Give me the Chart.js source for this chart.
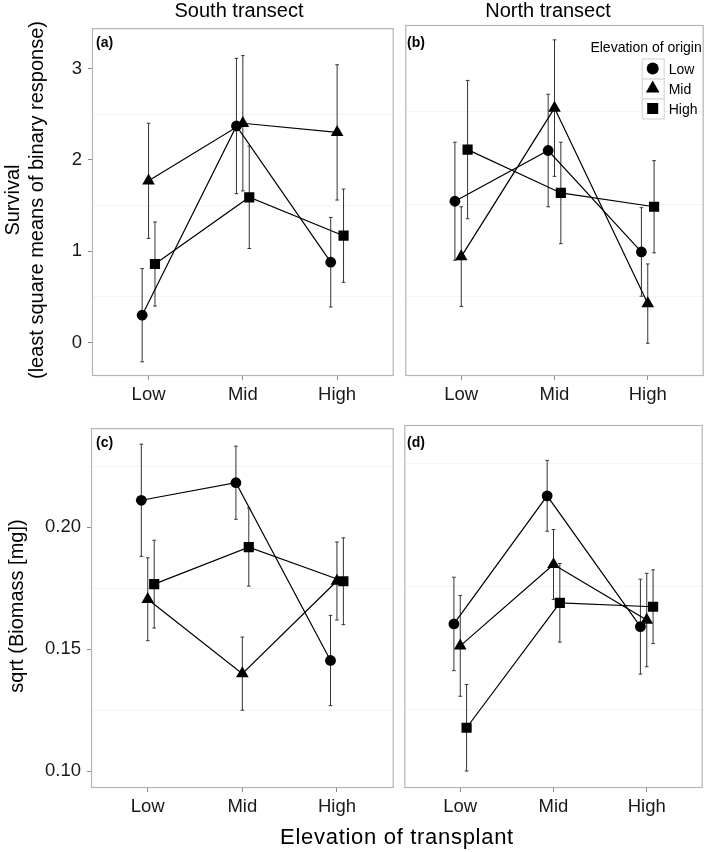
<!DOCTYPE html>
<html>
<head>
<meta charset="utf-8">
<script src="https://cdn.jsdelivr.net/npm/chart.js@4.4.0/dist/chart.umd.min.js"></script>
<style>
body { margin: 0; background: #fff; font-family: "Liberation Sans", Arial, sans-serif; }
#wrap { position: relative; width: 709px; height: 852px; overflow: hidden; }
canvas { position: absolute; }
.txt { position: absolute; white-space: nowrap; color: #000; line-height: 1; }
.rot { transform: translate(-50%, -50%) rotate(-90deg); text-align: center; }
</style>
</head>
<body>
<div id="wrap">
  <canvas id="chartA" width="369" height="405" style="left:32px;top:11px"></canvas>
  <canvas id="chartB" width="313" height="405" style="left:398px;top:11px"></canvas>
  <canvas id="chartC" width="370" height="417" style="left:31px;top:411px"></canvas>
  <canvas id="chartD" width="313" height="417" style="left:397px;top:411px"></canvas>

  <div class="txt" style="left:239px;top:0px;font-size:20px;transform:translateX(-50%)">South transect</div>
  <div class="txt" style="left:548px;top:0px;font-size:20px;transform:translateX(-50%)">North transect</div>

  <div class="txt" style="left:96px;top:35px;font-size:14px;font-weight:bold">(a)</div>
  <div class="txt" style="left:407px;top:35px;font-size:14px;font-weight:bold">(b)</div>
  <div class="txt" style="left:96px;top:435px;font-size:14px;font-weight:bold">(c)</div>
  <div class="txt" style="left:407px;top:435px;font-size:14px;font-weight:bold">(d)</div>

  <div class="txt rot" style="left:24px;top:200px;font-size:20px;line-height:24px">Survival<br>(least square means of binary response)</div>
  <div class="txt rot" style="left:16px;top:606px;font-size:20px">sqrt (Biomass [mg])</div>
  <div class="txt" style="left:397px;top:826px;font-size:22px;letter-spacing:0.7px;transform:translateX(-50%)">Elevation of transplant</div>
</div>

<script>
// categories
const transplantLevels = ['Low', 'Mid', 'High'];
const originLevels = ['Low', 'Mid', 'High'];

// (a) survival, south transect
const survSouthLow = [0.30, 2.37, 0.88];
const survSouthMid = [1.77, 2.40, 2.30];
const survSouthHigh = [0.86, 1.59, 1.17];
const survSouthLowSe = [0.51, 0.74, 0.49];
const survSouthMidSe = [0.63, 0.74, 0.74];
const survSouthHighSe = [0.46, 0.56, 0.51];

// (b) survival, north transect
const survNorthLow = [1.53, 2.08, 0.98];
const survNorthMid = [0.93, 2.54, 0.42];
const survNorthHigh = [2.09, 1.62, 1.47];
const survNorthLowSe = [0.64, 0.61, 0.48];
const survNorthMidSe = [0.54, 0.74, 0.43];
const survNorthHighSe = [0.75, 0.55, 0.50];

// (c) biomass, south transect
const bioSouthLow = [0.2111, 0.2183, 0.1454];
const bioSouthMid = [0.1705, 0.1400, 0.1780];
const bioSouthHigh = [0.1767, 0.1919, 0.1779];
const bioSouthLowSe = [0.0230, 0.0150, 0.0185];
const bioSouthMidSe = [0.0170, 0.0150, 0.0160];
const bioSouthHighSe = [0.0180, 0.0160, 0.0178];

// (d) biomass, north transect
const bioNorthLow = [0.1598, 0.2119, 0.1587];
const bioNorthMid = [0.1509, 0.1840, 0.1614];
const bioNorthHigh = [0.1176, 0.1684, 0.1668];
const bioNorthLowSe = [0.0190, 0.0144, 0.0193];
const bioNorthMidSe = [0.0205, 0.0142, 0.0190];
const bioNorthHighSe = [0.0176, 0.0160, 0.0150];

// tick values (majors labelled, halves are the faint minor lines)
const survTicks = [0, 0.5, 1, 1.5, 2, 2.5, 3];
const bioTicks = [0.10, 0.125, 0.15, 0.175, 0.20, 0.225];

const dodge = [-0.068, 0, 0.068];
const shapes = ['circle', 'triangle', 'rect'];
const radii = [5.4, 7.3, 7.2];
const FONT = '"Liberation Sans", Arial, sans-serif';

Chart.defaults.font.family = FONT;

const errorBars = {
    id: 'errorBars',
    beforeDatasetsDraw(chart) {
        const ctx = chart.ctx;
        const x = chart.scales.x, y = chart.scales.y;
        ctx.save();
        ctx.strokeStyle = '#333';
        ctx.lineWidth = 1;
        chart.data.datasets.forEach(ds => {
            ds.data.forEach((p, i) => {
                const px = x.getPixelForValue(p.x);
                const top = y.getPixelForValue(p.y + ds.errors[i]);
                const bot = y.getPixelForValue(p.y - ds.errors[i]);
                ctx.beginPath();
                ctx.moveTo(px, top); ctx.lineTo(px, bot);
                ctx.moveTo(px - 1.8, top); ctx.lineTo(px + 1.8, top);
                ctx.moveTo(px - 1.8, bot); ctx.lineTo(px + 1.8, bot);
                ctx.stroke();
            });
        });
        ctx.restore();
    }
};

const panelFrame = {
    id: 'panelFrame',
    afterDraw(chart) {
        const a = chart.chartArea, ctx = chart.ctx;
        ctx.save();
        ctx.strokeStyle = '#b5b5b5';
        ctx.lineWidth = 1.2;
        ctx.strokeRect(a.left + 0.5, a.top + 0.5, a.right - a.left - 1, a.bottom - a.top - 1);
        ctx.restore();
    }
};

function drawShape(ctx, shape, r, cx, cy) {
    ctx.beginPath();
    if (shape === 'circle') {
        ctx.arc(cx, cy, r, 0, Math.PI * 2);
    } else if (shape === 'triangle') {
        for (let k = 0; k < 3; k++) {
            const ang = k * 2 * Math.PI / 3;
            const px = cx + Math.sin(ang) * r, py = cy - Math.cos(ang) * r;
            if (k === 0) ctx.moveTo(px, py); else ctx.lineTo(px, py);
        }
        ctx.closePath();
    } else {
        const s = r * Math.SQRT1_2;
        ctx.rect(cx - s, cy - s, 2 * s, 2 * s);
    }
    ctx.fill();
}

const originLegend = {
    id: 'originLegend',
    afterDraw(chart, args, opts) {
        if (!opts.show) return;
        const a = chart.chartArea, ctx = chart.ctx;
        ctx.save();
        ctx.fillStyle = '#000';
        ctx.font = '14px ' + FONT;
        ctx.textAlign = 'right';
        ctx.textBaseline = 'alphabetic';
        ctx.fillText('Elevation of origin', a.right - 2, a.top + 26.5);
        ctx.textAlign = 'left';
        originLevels.forEach((lab, i) => {
            const bx = a.right - 62, by = a.top + 33.5 + 20 * i;
            ctx.fillStyle = '#fff';
            ctx.fillRect(bx, by, 22, 20);
            ctx.strokeStyle = '#d0d0d0';
            ctx.lineWidth = 1;
            ctx.strokeRect(bx + 0.5, by + 0.5, 22, 20);
            ctx.fillStyle = '#000';
            drawShape(ctx, shapes[i], radii[i] + 0.6, bx + 11, by + 10);
            ctx.font = '14px ' + FONT;
            ctx.fillText(lab, a.right - 35, by + 15.5);
        });
        ctx.restore();
    }
};

function makePanel(id, series, errs, yMin, yMax, yTicks, majorStep, fmt, showY, legend) {
    const isMajor = v => Math.abs(v / majorStep - Math.round(v / majorStep)) < 1e-6;
    const datasets = series.map((vals, s) => ({
        label: originLevels[s],
        data: vals.map((v, i) => ({ x: i + 1 + dodge[s], y: v })),
        errors: errs[s],
        borderColor: '#000',
        borderWidth: 1.2,
        backgroundColor: '#000',
        pointStyle: shapes[s],
        pointRadius: radii[s],
        pointBorderWidth: 0,
        pointBackgroundColor: '#000',
        tension: 0,
        fill: false
    }));
    new Chart(document.getElementById(id), {
        type: 'line',
        data: { datasets: datasets },
        options: {
            responsive: false,
            animation: false,
            events: [],
            layout: { padding: { top: 14, right: 4, left: showY ? 0 : 4, bottom: 0 } },
            plugins: { legend: { display: false }, tooltip: { enabled: false }, originLegend: { show: legend } },
            scales: {
                x: {
                    type: 'linear',
                    min: 0.4,
                    max: 3.6,
                    afterBuildTicks: s => { s.ticks = transplantLevels.map((t, i) => ({ value: i + 1 })); },
                    afterFit: s => { s.height = 40; },
                    ticks: {
                        callback: v => transplantLevels[Math.round(v) - 1],
                        font: { size: 18.5 },
                        color: '#1a1a1a',
                        padding: 4,
                        maxRotation: 0,
                        autoSkip: false
                    },
                    grid: { drawOnChartArea: false, tickLength: 4, tickColor: '#8c8c8c' },
                    border: { display: false }
                },
                y: {
                    min: yMin,
                    max: yMax,
                    afterBuildTicks: s => { s.ticks = yTicks.map(v => ({ value: v })); },
                    afterFit: s => { s.width = showY ? 60 : 0; },
                    ticks: {
                        display: showY,
                        callback: v => isMajor(v) ? fmt(v) : '',
                        font: { size: 18.5 },
                        color: '#1a1a1a',
                        padding: 6
                    },
                    grid: {
                        color: c => isMajor(c.tick.value) ? 'rgba(0,0,0,0)' : '#f4f4f4',
                        drawTicks: showY,
                        tickLength: 4,
                        tickColor: c => isMajor(c.tick.value) ? '#8c8c8c' : 'rgba(0,0,0,0)'
                    },
                    border: { display: false }
                }
            }
        },
        plugins: [errorBars, panelFrame, originLegend]
    });
}

const survFmt = v => String(Math.round(v));
const bioFmt = v => v.toFixed(2);

makePanel('chartA', [survSouthLow, survSouthMid, survSouthHigh],
    [survSouthLowSe, survSouthMidSe, survSouthHighSe], -0.365, 3.441, survTicks, 1, survFmt, true, false);
makePanel('chartB', [survNorthLow, survNorthMid, survNorthHigh],
    [survNorthLowSe, survNorthMidSe, survNorthHighSe], -0.365, 3.441, survTicks, 1, survFmt, false, true);
makePanel('chartC', [bioSouthLow, bioSouthMid, bioSouthHigh],
    [bioSouthLowSe, bioSouthMidSe, bioSouthHighSe], 0.0931, 0.2407, bioTicks, 0.05, bioFmt, true, false);
makePanel('chartD', [bioNorthLow, bioNorthMid, bioNorthHigh],
    [bioNorthLowSe, bioNorthMidSe, bioNorthHighSe], 0.0931, 0.2407, bioTicks, 0.05, bioFmt, false, false);
</script>
</body>
</html>
